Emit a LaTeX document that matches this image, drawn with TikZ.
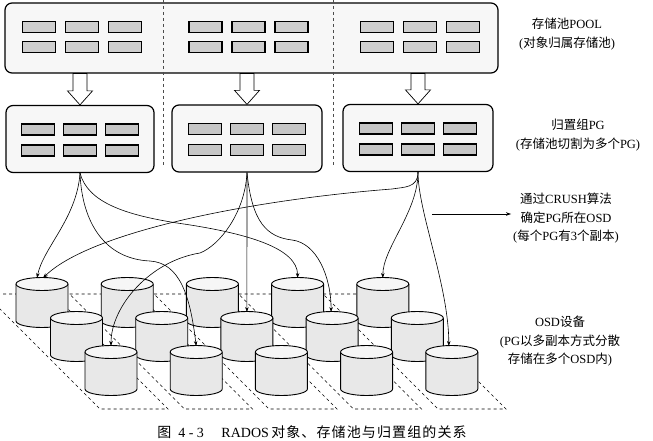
\documentclass[tikz,border=0pt]{standalone}
\usepackage{fontspec}
\setmainfont{Liberation Serif}
\newfontfamily\cjk{Noto Sans CJK SC}
\newfontfamily\cjkwide[LetterSpace=8]{Noto Sans CJK SC}
\usetikzlibrary{calc,arrows.meta}
\newcommand{\zh}[1]{{\cjk #1}}
\tikzset{
  box/.style={draw,line width=1.2pt,rounded corners=7pt,fill=gray!6},
  cell/.style={draw,line width=1.1pt,fill=gray!38},
  hollow/.style={draw,line width=0.7pt,fill=white},
  sep/.style={dashed,line width=0.5pt,gray!60!black},
  shadow/.style={dashed,line width=0.6pt},
  link/.style={line width=0.6pt,-{Stealth[length=5pt,width=3.5pt]}},
  note/.style={align=center,inner sep=2pt,font=\fontsize{12.5}{18.5}\selectfont},
  disk/.style={draw,line width=0.9pt},
}
% cylinder, #1 = centre of its top face
\newcommand{\drum}[1]{%
  \fill[gray!18] ([xshift=-26pt]#1) -- ++(0,37) arc[start angle=180,end angle=360,x radius=26pt,y radius=6.5pt] -- ++(0,-37) -- cycle;
  \draw[disk] ([xshift=-26pt]#1) -- ++(0,37) arc[start angle=180,end angle=360,x radius=26pt,y radius=6.5pt] -- ++(0,-37);
  \draw[disk,fill=gray!7] (#1) ellipse[x radius=26pt,y radius=6.5pt];
}

\begin{document}
\begin{tikzpicture}[x=1pt,y=-1pt]
        \useasboundingbox (0,0) rectangle (653,441);
        \clip (0,0) rectangle (653,441);
        % storage pool
        \node[box,minimum width=493pt,minimum height=70pt] (pool) at (251.5,38) {};
        \foreach \gx in {82,248.5,420}
          \foreach \i in {-1,0,1}
            \foreach \j in {-1,1}
              \draw[cell] ({\gx+43*\i-16.5},{37+10*\j-5.5}) rectangle ++(33,11);
        \draw[sep] (163,0) -- (163,165);
        \draw[sep] (333,0) -- (333,165);
        % placement groups
        \node[box,minimum width=148pt,minimum height=67pt] (pg1) at (80,139) {};
        \node[box,minimum width=150pt,minimum height=67pt] (pg2) at (247,138.5) {};
        \node[box,minimum width=150pt,minimum height=67pt] (pg3) at (418,138) {};
        \foreach \p in {pg1,pg2,pg3}
          \foreach \i in {-1,0,1}
            \foreach \j in {-1,1}
              \draw[cell,fill=gray!45] ($(\p)+({42*\i-16.5},{10.5*\j-4.5})$) rectangle ++(33,11);
        \foreach \p in {pg1,pg2,pg3}
          \draw[hollow] (\p.north) -- ++(-12.5,-14) -- ++(5.5,0) -- ($(\p.north |- pool.south)+(-7,0)$) -- ++(14,0) -- ($(\p.north)+(7,-14)$) -- ++(5.5,0) -- cycle;
        % osd
        \foreach \k in {0,...,4}
          \draw[shadow] ({-15+84.5*\k},294) -- ({53+84.5*\k},294) -- ({168+84.5*\k},409) -- ({100+84.5*\k},409) -- cycle;
        \foreach \r/\dx/\y in {b/0/284,m/34.5/318,f/69/352}
          \foreach \c in {1,...,5}{
            \coordinate (\r\c) at ({42+\dx+85.2*(\c-1)},\y);
            \drum{\r\c}
          }
        % crush mapping
        \draw[link] (pg1.south) .. controls +(-3,45) and +(6,-30) .. ([xshift=-5pt,yshift=6pt]b1);
        \draw[link] (pg1.south) .. controls +(2,50) and +(-45,-2) .. (150,261) .. controls +(30,2) and +(-6,-50) .. ([yshift=6pt]f2);
        \draw[link] (pg1.south) .. controls +(8,30) and +(-50,-8) .. (177,223) .. controls +(70,10) and +(0,-30) .. ([yshift=6pt]b4);
        \draw[link] (pg2.south) -- ([yshift=6pt]m3);
        \draw[link] (pg2.south) .. controls +(-2,40) and +(20,-8) .. (200,253) .. controls +(-50,8) and +(0,-40) .. ([yshift=6pt]f1);
        \draw[link] (pg2.south) .. controls +(5,50) and +(-25,-3) .. (292,240) .. controls +(25,3) and +(0,-35) .. ([xshift=-1pt,yshift=6pt]m4);
        \draw[link] (pg3.south) .. controls +(0,16) and +(12,-2) .. (392,189) .. controls (250,200) and (90,232) .. ([xshift=1pt,yshift=6pt]b1);
        \draw[link] (pg3.south) .. controls +(0,40) and +(0,-30) .. ([yshift=6pt]b5);
        \draw[link] (pg3.south) .. controls +(0,40) and +(0,-60) .. ([xshift=-3pt,yshift=6pt]f5);
        % notes
        \node[note] (pooltext) at (567,34) {\zh{存储池}POOL\\(\zh{对象归属存储池})};
        \node[note] (pgtext) at (578,135) {\zh{归置组}PG\\(\zh{存储池切割为多个}PG)};
        \node[note] (crush) at (566,218.5) {\zh{通过}CRUSH\zh{算法}\\\zh{确定}PG\zh{所在}OSD\\(\zh{每个}PG\zh{有}3\zh{个副本})};
        \node[note] (osdtext) at (560,341.5) {OSD\zh{设备}\\(PG\zh{以多副本方式分散}\\\zh{存储在多个}OSD\zh{内})};
        \coordinate (crushfrom) at (432,214);
        \draw[link] (crushfrom) -- (crushfrom -| crush.west);
        \node[font=\fontsize{14}{16}\selectfont] (caption) at (312,432) {{\cjkwide 图}~~4~-~3\quad\ RADOS\,{\cjkwide 对象、存储池与归置组的关系}};
\end{tikzpicture}
\end{document}
